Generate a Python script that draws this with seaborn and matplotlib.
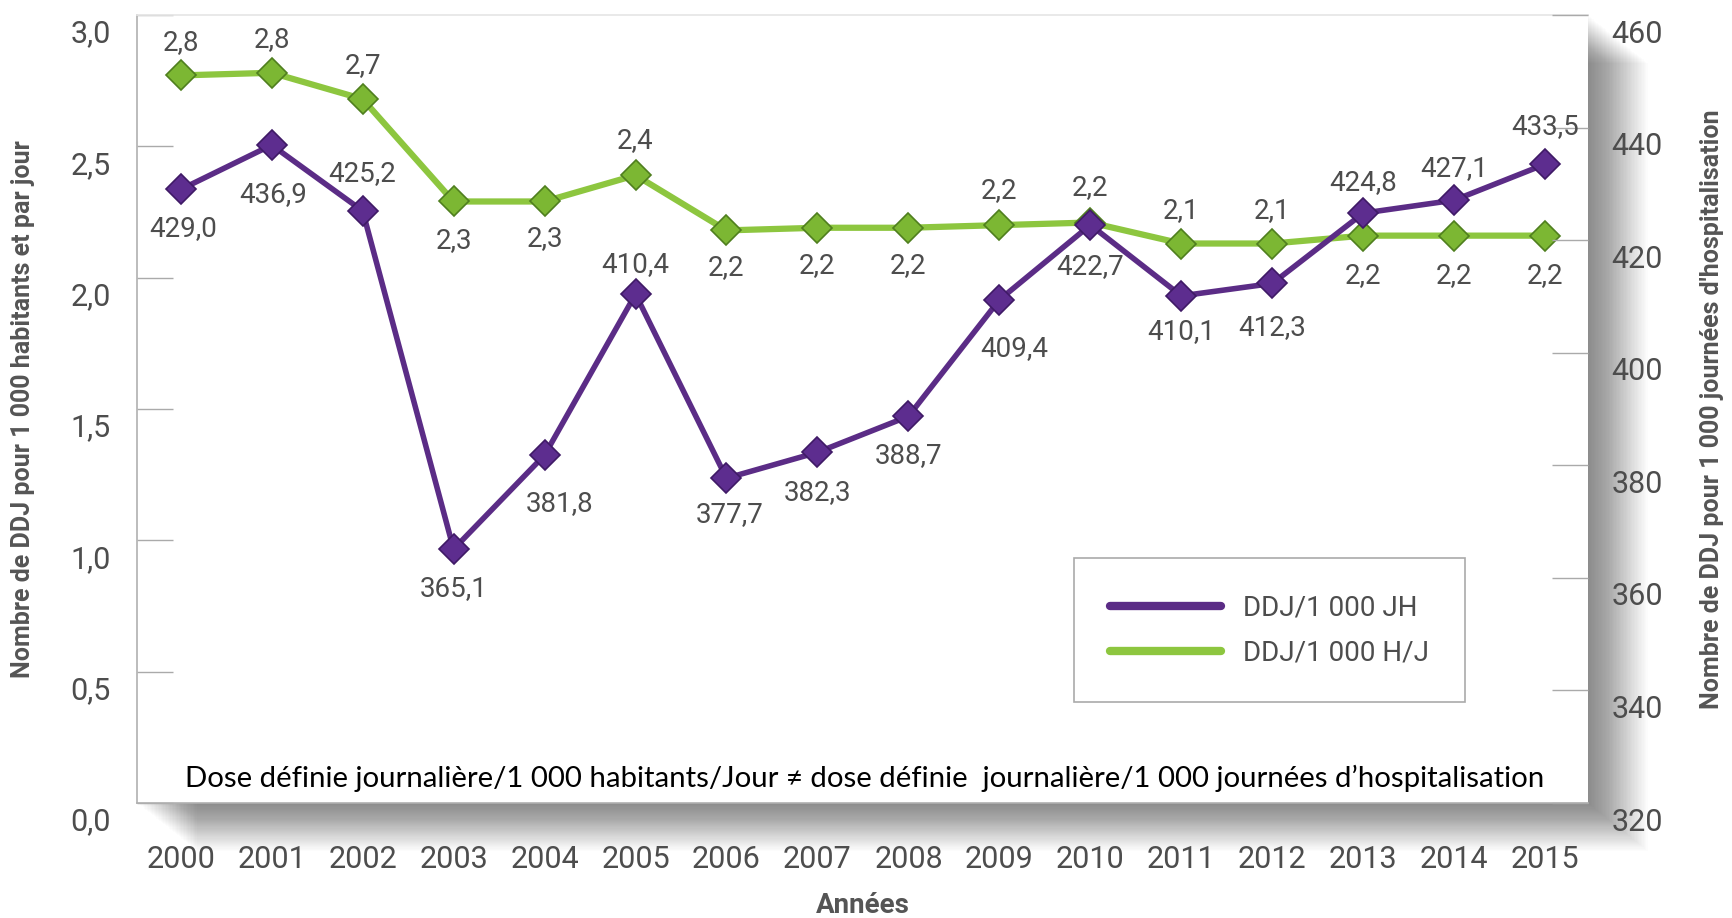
import matplotlib
matplotlib.use("Agg")
import matplotlib.pyplot as plt
import matplotlib.patheffects as pe
from matplotlib.lines import Line2D
from matplotlib.ticker import FuncFormatter
from matplotlib.transforms import ScaledTranslation
import seaborn as sns

sns.set_theme(style="white")
plt.rcParams['font.family'] = ['Roboto', 'DejaVu Sans']

# données
years = list(range(2000, 2016))
ddj_jh = [429.0, 436.9, 425.2, 365.1, 381.8, 410.4, 377.7, 382.3,
          388.7, 409.4, 422.7, 410.1, 412.3, 424.8, 427.1, 433.5]
ddj_hj = [2.77, 2.78, 2.68, 2.29, 2.29, 2.39, 2.18, 2.19,
          2.19, 2.20, 2.21, 2.13, 2.13, 2.16, 2.16, 2.16]
left_ticks = [0.0, 0.5, 1.0, 1.5, 2.0, 2.5, 3.0]
right_ticks = [320, 340, 360, 380, 400, 420, 440, 460]
series_names = ["DDJ/1 000 JH", "DDJ/1 000 H/J"]
note = "Dose définie journalière/1 000 habitants/Jour \u2260 dose définie  journalière/1 000 journées d\u2019hospitalisation"

# placement des étiquettes (points)
jh_offsets = [(2, -28), (1, -36), (0, 27), (0, -28), (11, -35), (0, 21), (2, -26), (0, -29),
              (0, -28), (11, -35), (0, -30), (0, -26), (0, -32), (0, 22), (0, 23), (0, 27)]
hj_offsets = [(0, 24), (0, 24), (0, 24), (0, -28), (0, -27), (0, 25), (0, -27), (0, -27),
              (0, -27), (0, 25), (0, 25), (0, 24), (0, 24), (0, -29), (0, -29), (0, -29)]

PURPLE = '#5b2c86'
GREEN = '#8dc63f'
TXT = '#4d4d4d'

def fr(v, _=None):
    return f"{v:.1f}".replace('.', ',')

fig, ax = plt.subplots(figsize=(17.32, 9.18), dpi=100)
fig.patch.set_facecolor('white')
fig.subplots_adjust(left=137 / 1732, right=1588 / 1732, bottom=1 - 803 / 918, top=1 - 15 / 918)
ax2 = ax.twinx()

# ombre du cadre (dégradé)
shadow = [pe.SimplePatchShadow(offset=(k, -0.8 * k), shadow_rgbFace='black', alpha=0.011)
          for k in range(1, 44)]
ax.patch.set_facecolor('white')
ax.patch.set_path_effects(shadow + [pe.Normal()])

sns.lineplot(x=years, y=ddj_hj, ax=ax, color=GREEN, linewidth=4.5, marker='D', markersize=15,
             markerfacecolor='#7cb733', markeredgecolor='#4f7f1e', markeredgewidth=1.2, legend=False)
sns.lineplot(x=years, y=ddj_jh, ax=ax2, color=PURPLE, linewidth=4, marker='D', markersize=15,
             markerfacecolor='#5d2d8f', markeredgecolor='#3f1a66', markeredgewidth=1.2, legend=False)

for x, y, (dx, dy) in zip(years, ddj_hj, hj_offsets):
    ax.annotate(fr(y), (x, y), xytext=(dx, dy), textcoords='offset points',
                ha='center', va='center', fontsize=20, color=TXT)
for x, y, (dx, dy) in zip(years, ddj_jh, jh_offsets):
    ax2.annotate(fr(y), (x, y), xytext=(dx, dy), textcoords='offset points',
                 ha='center', va='center', fontsize=20, color=TXT)

ax.set_xlim(1999.52, 2015.47)
ax.set_ylim(0, 3)
ax2.set_ylim(320, 460)
ax.set_xticks(years)
ax.set_xticklabels([str(y) for y in years])
ax.set_yticks(left_ticks)
ax.yaxis.set_major_formatter(FuncFormatter(fr))
ax2.set_yticks(right_ticks)

ax.tick_params(axis='x', length=0, pad=30, labelsize=22, labelcolor=TXT)
ax.tick_params(axis='y', direction='in', length=26, width=1, color='#aaaaaa', pad=19,
               labelsize=22, labelcolor=TXT)
ax2.tick_params(axis='y', direction='in', length=26, width=1, color='#aaaaaa', pad=17,
                labelsize=22, labelcolor=TXT)

for s in ['left', 'bottom']:
    ax.spines[s].set_color('#b0b0b0')
    ax.spines[s].set_linewidth(1.2)
ax.spines['top'].set_color('#e6e6e6')
ax.spines['right'].set_visible(False)
for s in ax2.spines.values():
    s.set_visible(False)

# étiquettes des axes y légèrement décalées vers le bas
off = ScaledTranslation(0, -0.16, fig.dpi_scale_trans)
for lab in ax.get_yticklabels() + ax2.get_yticklabels():
    lab.set_transform(lab.get_transform() + off)

ax.set_ylabel("Nombre de DDJ pour 1 000 habitants et par jour", fontsize=18, fontweight='bold', color='#555555')
ax.yaxis.set_label_coords(-0.070, 0.5)
ax2.set_ylabel("Nombre de DDJ pour 1 000 journées d'hospitalisation", fontsize=18, fontweight='bold', color='#555555')
ax2.yaxis.set_label_coords(1.077, 0.5)
ax.set_xlabel("Années", fontsize=20, fontweight='bold', color='#555555')
ax.xaxis.set_label_coords(0.5, -0.113)

ax.text(0.5017, 0.020, note, transform=ax.transAxes, ha='center', va='baseline',
        fontsize=21.2, color='black', family=['Lato', 'DejaVu Sans'], zorder=5)

handles = [Line2D([], [], color=PURPLE, linewidth=6, solid_capstyle='round'),
           Line2D([], [], color=GREEN, linewidth=6, solid_capstyle='round')]
leg = ax2.legend(handles, series_names, loc='lower left', bbox_to_anchor=(0.636, 0.110),
                 fontsize=20, frameon=True, fancybox=False, framealpha=1, edgecolor='#aaaaaa',
                 handlelength=4.0, handletextpad=0.8, labelspacing=0.65, borderpad=1.3)
leg.get_frame().set_linewidth(1.2)
for t in leg.get_texts():
    t.set_color(TXT)

plt.savefig('out.png', dpi=100, facecolor='white')
